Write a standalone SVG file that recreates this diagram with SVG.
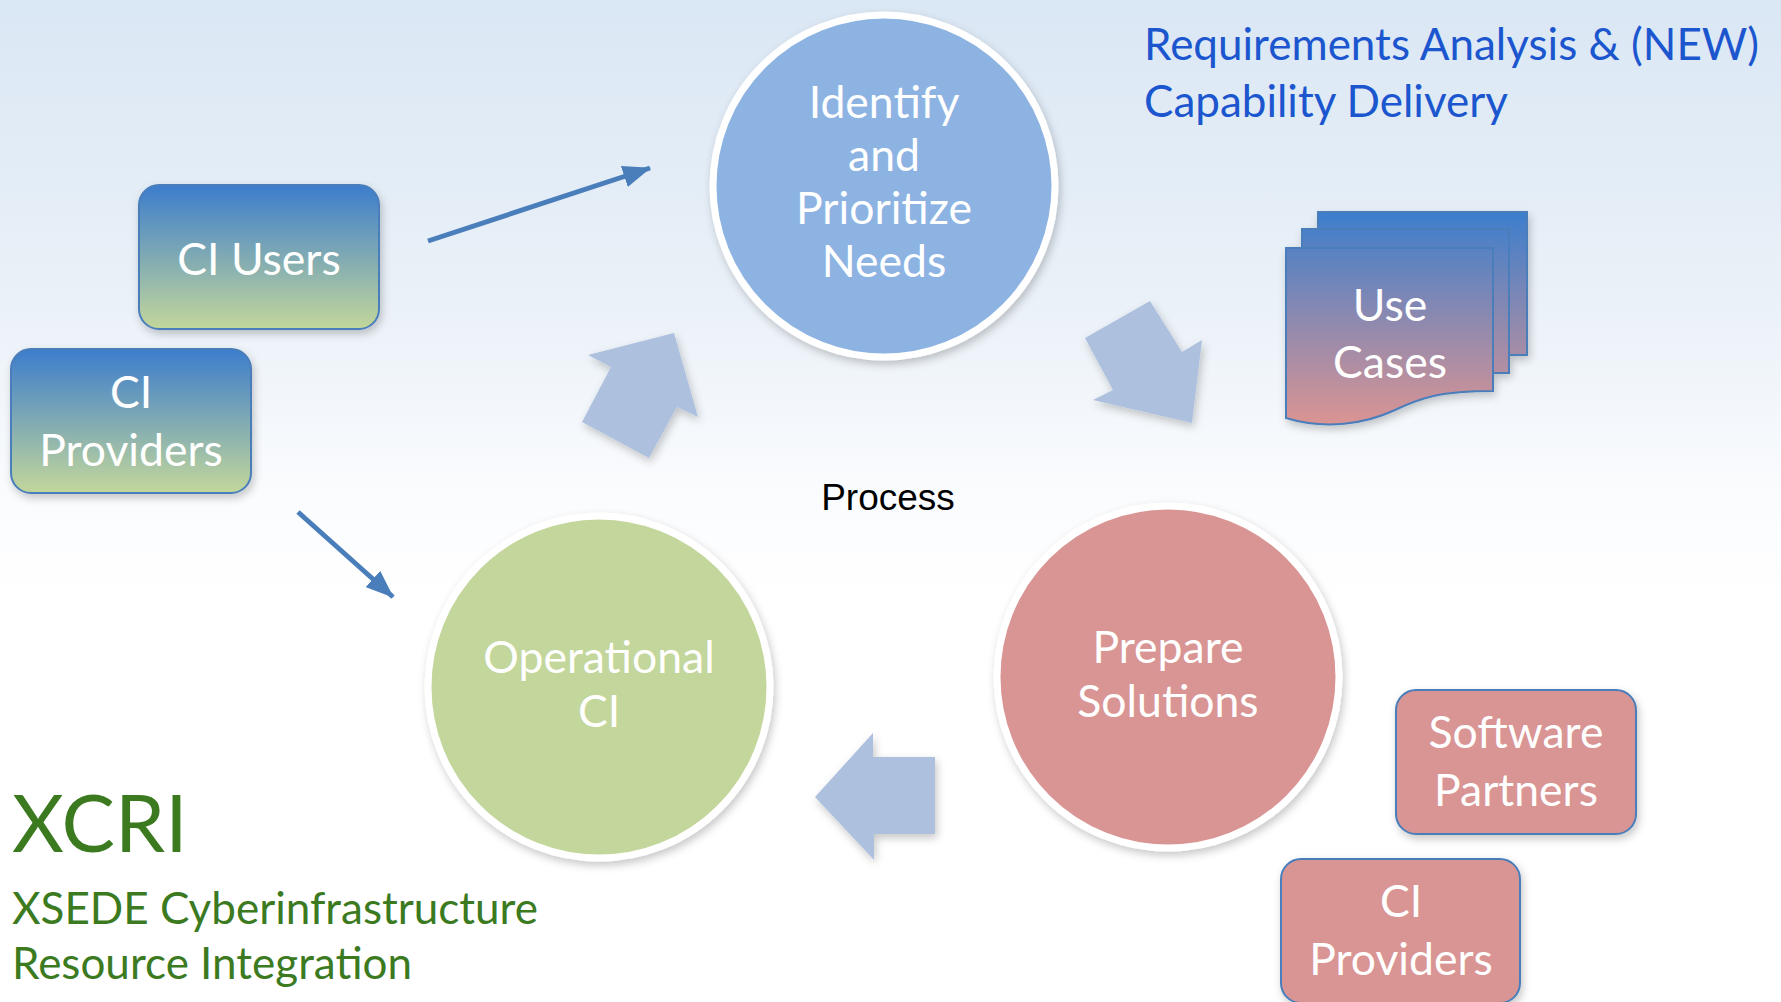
<svg xmlns="http://www.w3.org/2000/svg" width="1781" height="1002" viewBox="0 0 1781 1002">
<defs>
<linearGradient id="bg" x1="0" y1="0" x2="0" y2="1">
<stop offset="0" stop-color="#dae7f4"/>
<stop offset="0.3" stop-color="#eaf1f8"/>
<stop offset="0.5" stop-color="#fbfcfe"/>
<stop offset="0.6" stop-color="#ffffff"/>
</linearGradient>
<linearGradient id="bluegreen" x1="0" y1="0" x2="0" y2="1">
<stop offset="0" stop-color="#3c7dcc"/>
<stop offset="1" stop-color="#c3d79b"/>
</linearGradient>
<linearGradient id="bluepink" gradientUnits="userSpaceOnUse" x1="0" y1="212" x2="0" y2="423">
<stop offset="0" stop-color="#3c7ecd"/>
<stop offset="1" stop-color="#da9493"/>
</linearGradient>
<filter id="sh" x="-20%" y="-20%" width="140%" height="140%">
<feDropShadow dx="2" dy="4" stdDeviation="4" flood-color="#000" flood-opacity="0.22"/>
</filter>
<marker id="ah" markerUnits="userSpaceOnUse" markerWidth="28" markerHeight="22" viewBox="0 0 28 22" refX="27" refY="11" orient="auto">
<path d="M0,0 L28,11 L0,22 z" fill="#4a7ebb"/>
</marker>
</defs>
<style>
.circ{stroke:#ffffff;stroke-width:7;filter:url(#sh)}
.box{stroke:#4a7ebb;stroke-width:2;filter:url(#sh)}
.blk{fill:#adc0de;filter:url(#sh)}
.wt{font-family:Lato,"Open Sans",sans-serif;fill:#ffffff;text-anchor:middle;font-size:44.5px}
.conn{stroke:#4a7ebb;stroke-width:5;fill:none}
.ttl{font-family:Lato,"Open Sans",sans-serif;font-size:44px;fill:#1c56cf}
.grn{font-family:Lato,"Open Sans",sans-serif;font-size:44px;fill:#3b7a1f}
</style>
<rect x="0" y="0" width="1781" height="1002" fill="url(#bg)"/>

<g id="title">
<text class="ttl" x="1144" y="60">Requirements Analysis &amp; (NEW)</text>
<text class="ttl" x="1144" y="117">Capability Delivery</text>
</g>

<g id="xcri">
<text class="grn" x="12" y="852" style="font-size:80px">XCRI</text>
<text class="grn" x="12" y="924">XSEDE Cyberinfrastructure</text>
<text class="grn" x="12" y="979">Resource Integration</text>
</g>

<g id="process-label">
<text x="888" y="510" font-family="'Liberation Sans',Arial,sans-serif" font-size="37" fill="#000000" text-anchor="middle">Process</text>
</g>

<g id="cycle-arrows">
<polygon class="blk" points="588,355 674,333 698,417 677,407 649,458 582,422 611,367"/>
<polygon class="blk" points="1085,338 1150,301 1182,352 1202,340 1192,423 1093,400 1113,390"/>
<polygon class="blk" points="815,797 873,733 873,757 935,757 935,834 874,834 874,860"/>
</g>

<g id="identify">
<circle class="circ" cx="884" cy="186" r="171" fill="#8db3e2"/>
<text class="wt" x="884" y="118">Identify</text>
<text class="wt" x="884" y="171">and</text>
<text class="wt" x="884" y="224">Prioritize</text>
<text class="wt" x="884" y="277">Needs</text>
</g>

<g id="operational">
<circle class="circ" cx="599" cy="687" r="171" fill="#c3d69b"/>
<text class="wt" x="599" y="673">Operational</text>
<text class="wt" x="599" y="727">CI</text>
</g>

<g id="prepare">
<circle class="circ" cx="1168" cy="677" r="171" fill="#d99594"/>
<text class="wt" x="1168" y="663">Prepare</text>
<text class="wt" x="1168" y="717">Solutions</text>
</g>

<g id="use-cases">
<g filter="url(#sh)">
<rect x="1318" y="212" width="209" height="143" fill="url(#bluepink)" stroke="#4a7ebb" stroke-width="2"/>
<rect x="1302" y="229" width="207" height="144" fill="url(#bluepink)" stroke="#4a7ebb" stroke-width="2"/>
<path d="M1286,248 L1493,248 L1493,391 C1440,391 1420,398 1395,410 C1365,424 1325,430 1286,418 Z" fill="url(#bluepink)" stroke="#4a7ebb" stroke-width="2"/>
</g>
<text class="wt" x="1390" y="321">Use</text>
<text class="wt" x="1390" y="378">Cases</text>
</g>

<g id="ci-users">
<rect class="box" x="139" y="185" width="240" height="144" rx="20" fill="url(#bluegreen)"/>
<text class="wt" x="259" y="275">CI Users</text>
</g>

<g id="ci-providers-left">
<rect class="box" x="11" y="349" width="240" height="144" rx="20" fill="url(#bluegreen)"/>
<text class="wt" x="131" y="408">CI</text>
<text class="wt" x="131" y="466">Providers</text>
</g>

<g id="software-partners">
<rect class="box" x="1396" y="690" width="240" height="144" rx="20" fill="#d99594"/>
<text class="wt" x="1516" y="748">Software</text>
<text class="wt" x="1516" y="806">Partners</text>
</g>

<g id="ci-providers-right">
<rect class="box" x="1281" y="859" width="239" height="144" rx="20" fill="#d99594"/>
<text class="wt" x="1401" y="917">CI</text>
<text class="wt" x="1401" y="975">Providers</text>
</g>

<g id="connectors">
<line class="conn" x1="428" y1="241" x2="650" y2="168" marker-end="url(#ah)"/>
<line class="conn" x1="298" y1="512" x2="393" y2="597" marker-end="url(#ah)"/>
</g>
</svg>
